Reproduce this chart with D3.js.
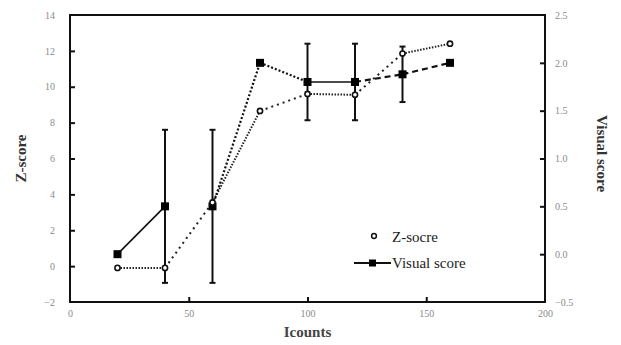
<!DOCTYPE html>
<html><head><meta charset="utf-8">
<script src="https://cdn.jsdelivr.net/npm/d3@7"></script>
<style>body{margin:0;background:#fff;} svg{display:block;}</style>
</head><body>
<svg id="c" width="621" height="345"></svg>
<script>
const counts = [20, 40, 60, 80, 100, 120, 140, 160];
const zScore = [-0.1, -0.1, 3.55, 8.65, 9.6, 9.55, 11.85, 12.4];
const visualScore = [0.0, 0.5, 0.5, 2.0, 1.8, 1.8, 1.88, 2.0];
const visualErr = [null, 0.8, 0.8, null, 0.4, 0.4, 0.29, null];
// line style of each segment (i -> i+1)
const visualSegStyle = ["solid", "none", "dotted", "dotted", "solid", "dashed", "dashed"];
const zSegStyle = ["dense", "sparse", "dense", "sparse", "dense", "sparse", "dense"];
const xTicks = [0, 50, 100, 150, 200];
const yLeftTicks = [-2, 0, 2, 4, 6, 8, 10, 12, 14];
const yRightTicks = [-0.5, 0.0, 0.5, 1.0, 1.5, 2.0, 2.5];
const legendLabels = ["Z-socre", "Visual score"];

const svg = d3.select("#c");
const L = 70, R = 545, T = 15, B = 302;
const x = d3.scaleLinear().domain([0, 200]).range([L, R]);
const yl = d3.scaleLinear().domain([-2, 14]).range([B, T]);
const yr = d3.scaleLinear().domain([-0.5, 2.5]).range([B, T]);
const serif = "'Liberation Serif','DejaVu Serif',serif";

// frame
svg.append("rect").attr("x", L).attr("y", T).attr("width", R - L).attr("height", B - T)
  .attr("fill", "none").attr("stroke", "#111").attr("stroke-width", 2);

// axes (inward ticks)
const ax = svg.append("g").attr("transform", `translate(0,${B})`)
  .call(d3.axisBottom(x).tickValues(xTicks).tickSize(-5).tickPadding(8).tickFormat(d3.format("d")));
const ayl = svg.append("g").attr("transform", `translate(${L},0)`)
  .call(d3.axisLeft(yl).tickValues(yLeftTicks).tickSize(-5).tickPadding(15).tickFormat(d3.format("d")));
const ayr = svg.append("g").attr("transform", `translate(${R},0)`)
  .call(d3.axisRight(yr).tickValues(yRightTicks).tickSize(-5).tickPadding(10).tickFormat(d3.format(".1f")));
[ax, ayl, ayr].forEach(g => {
  g.select(".domain").remove();
  g.selectAll(".tick line").attr("stroke", "#111").attr("stroke-width", 2);
  g.selectAll(".tick text").attr("fill", "#8a8a8a").style("font-family", serif).style("font-size", "10px");
});
ax.selectAll(".tick").filter(d => d === 0 || d === 200).select("line").remove();
ayl.selectAll(".tick").filter(d => d === -2 || d === 14).select("line").remove();
ayr.selectAll(".tick").filter(d => d === -0.5 || d === 2.5).select("line").remove();

// axis titles
svg.append("text").attr("x", x(100)).attr("y", 337).attr("text-anchor", "middle")
  .style("font-family", serif).style("font-size", "15px").style("font-weight", "bold").attr("fill", "#444").text("Icounts");
svg.append("text").attr("transform", `translate(26,${(T + B) / 2}) rotate(-90)`).attr("text-anchor", "middle")
  .style("font-family", serif).style("font-size", "15px").style("font-weight", "bold").attr("fill", "#333").text("Z-score");
svg.append("text").attr("transform", `translate(597,${(T + B) / 2 - 5}) rotate(90)`).attr("text-anchor", "middle")
  .style("font-family", serif).style("font-size", "15px").style("font-weight", "bold").attr("fill", "#333").text("Visual score");

const dashOf = { solid: null, dotted: "2,2", dashed: "6,4", dense: "1.5,1.5", sparse: "2,4" };

// Z-score segments
for (let i = 0; i < counts.length - 1; i++) {
  svg.append("line").attr("x1", x(counts[i])).attr("y1", yl(zScore[i]))
    .attr("x2", x(counts[i + 1])).attr("y2", yl(zScore[i + 1]))
    .attr("stroke", "#222").attr("stroke-width", 2).attr("stroke-dasharray", dashOf[zSegStyle[i]]);
}
// Visual score segments
for (let i = 0; i < counts.length - 1; i++) {
  if (visualSegStyle[i] === "none") continue;
  svg.append("line").attr("x1", x(counts[i])).attr("y1", yr(visualScore[i]))
    .attr("x2", x(counts[i + 1])).attr("y2", yr(visualScore[i + 1]))
    .attr("stroke", "#111").attr("stroke-width", visualSegStyle[i] === "solid" ? 1.6 : 2.2)
    .attr("stroke-dasharray", dashOf[visualSegStyle[i]]);
}
// error bars
counts.forEach((c, i) => {
  const e = visualErr[i];
  if (e == null) return;
  const cx = x(c), y1 = yr(visualScore[i] + e), y2 = yr(visualScore[i] - e);
  const g = svg.append("g").attr("stroke", "#111").attr("stroke-width", 2);
  g.append("line").attr("x1", cx).attr("x2", cx).attr("y1", y1).attr("y2", y2);
  g.append("line").attr("x1", cx - 3).attr("x2", cx + 3).attr("y1", y1).attr("y2", y1);
  g.append("line").attr("x1", cx - 3).attr("x2", cx + 3).attr("y1", y2).attr("y2", y2);
});
// markers
svg.selectAll(".vs").data(counts).enter().append("rect")
  .attr("x", (d) => x(d) - 4).attr("y", (d, i) => yr(visualScore[i]) - 4)
  .attr("width", 8).attr("height", 8).attr("fill", "#000");
svg.selectAll(".zs").data(counts).enter().append("circle")
  .attr("cx", d => x(d)).attr("cy", (d, i) => yl(zScore[i])).attr("r", 2.6)
  .attr("fill", "#fff").attr("stroke", "#111").attr("stroke-width", 1.6);

// legend
svg.append("circle").attr("cx", 374).attr("cy", 236).attr("r", 2.4)
  .attr("fill", "#fff").attr("stroke", "#111").attr("stroke-width", 1.5);
svg.append("text").attr("x", 392).attr("y", 242).style("font-family", serif).style("font-size", "15px")
  .attr("fill", "#222").text(legendLabels[0]);
svg.append("line").attr("x1", 354).attr("x2", 391).attr("y1", 263).attr("y2", 263)
  .attr("stroke", "#111").attr("stroke-width", 1.8);
svg.append("rect").attr("x", 369).attr("y", 259.5).attr("width", 7).attr("height", 7).attr("fill", "#000");
svg.append("text").attr("x", 392).attr("y", 268).style("font-family", serif).style("font-size", "15px")
  .attr("fill", "#222").text(legendLabels[1]);
</script>
</body></html>
